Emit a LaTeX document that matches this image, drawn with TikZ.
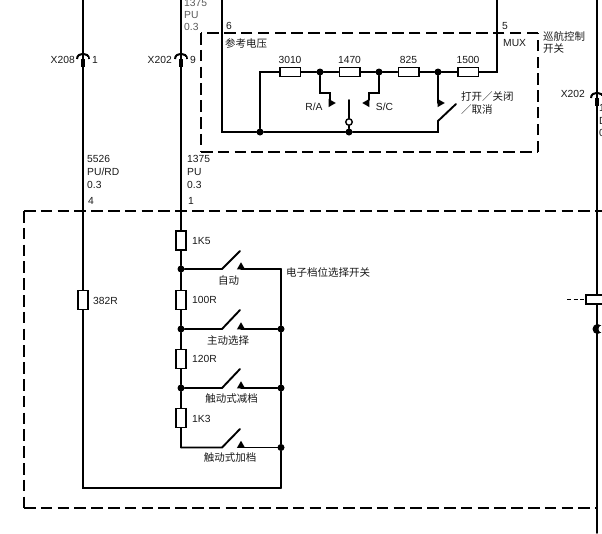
\documentclass[tikz,border=0pt]{standalone}
\usepackage{fontspec}
\setmainfont{Liberation Sans}
\newfontfamily\cjk{Noto Sans CJK SC}
\usetikzlibrary{shapes,calc,positioning}
\tikzset{
	wire/.style={line width=1.9pt, line cap=round, line join=miter},
	boxline/.style={line width=1.9pt, dash pattern=on 11.5pt off 5.3pt},
	res/.style={draw, line width=1.5pt, fill=white, rectangle, inner sep=0pt},
	resv/.style={res, minimum width=10pt, minimum height=19pt},
	resh/.style={res, minimum width=20.5pt, minimum height=9pt},
	dot/.style={circle, fill=black, inner sep=0pt, minimum size=7pt},
	tip/.style={regular polygon, regular polygon sides=3, fill=black, inner sep=0pt, minimum size=9.5pt},
	lab/.style={font=\fontsize{10.3}{12}\selectfont, text=black!90, inner sep=0pt},
	wlab/.style={lab, anchor=west},
	elab/.style={lab, anchor=east},
	zh/.style={font=\fontsize{10.5}{12}\selectfont\cjk, text=black!90, inner sep=0pt},
	zhw/.style={zh, anchor=west},
	conn/.pic={
		\draw[line width=2pt] (-6,4) .. controls (-6,-3) and (6,-3) .. (6,4);
		\draw[line width=3.8pt] (0,4) -- (0,12);
		\fill[white] (-4.5,2.2) rectangle (-1,4);
		\fill[white] (1,2.2) rectangle (4.5,4);
	}
}
\begin{document}
\begin{tikzpicture}[x=1pt, y=-1pt]
	\useasboundingbox (0,0) rectangle (602,533);
	% outer and upper dashed boxes
	\coordinate (obtl) at (24,211);
	\coordinate (obtr) at (602,211);
	\coordinate (obbl) at (24,508);
	\coordinate (obbr) at (597,508);
	\coordinate (ubtl) at (201,33);
	\coordinate (ubtr) at (538,33);
	\coordinate (ubbl) at (201,152);
	\coordinate (ubbr) at (538,152);
	\draw[boxline] (obtl) -- (obtr);
	\draw[boxline] (obtl) -- (obbl);
	\draw[boxline] (obbl) -- (obbr);
	\draw[boxline] (ubtl) -- (ubbl);
	\draw[boxline] (ubbl) -- (ubbr);
	\draw[boxline] (ubbr) -- (ubtr);
	\draw[boxline] (ubtr) -- (ubtl);

	% left wires with connectors
	\coordinate (topa) at (83,0);
	\coordinate (topb) at (181,0);
	\coordinate (topc) at (597,0);
	\coordinate (botc) at (597,533);
	\coordinate (corna) at (83,488);
	\coordinate (cornb) at (281,488);
	\node[resv] (r382) at (83,300) {};
	\node[resv] (r1k5) at (181,240.5) {};
	\node[resv] (r100) at (181,300) {};
	\node[resv] (r120) at (181,359) {};
	\node[resv] (r1k3) at (181,418) {};
	\draw[wire] (topa) -- (r382);
	\draw[wire] (r382) -- (corna) -- (cornb);
	\draw[wire] (topb) -- (r1k5);
	\draw[wire] (topc) -- (botc);
	\pic at (83,55) {conn};
	\pic at (181,55) {conn};
	\pic at (597,94) {conn};

	% gear switch ladder
	\node[dot] (ja) at (181,269) {};
	\node[dot] (jb) at (181,329) {};
	\node[dot] (jc) at (181,388) {};
	\coordinate (jd) at (181,447.5);
	\coordinate (bus) at (281,269);
	\node[dot] (ka) at (281,329) {};
	\node[dot] (kb) at (281,388) {};
	\node[dot] (kc) at (281,447.5) {};
	\draw[wire] (r1k5) -- (ja) -- (r100) -- (jb) -- (r120) -- (jc) -- (r1k3) -- (jd);
	\draw[wire] (bus) -- (ka) -- (kb) -- (kc) -- (cornb);

	\coordinate (sa1) at (222,269);
	\coordinate (sa2) at (240,251);
	\coordinate (sa3) at (241,269);
	\node[tip] (ta) at (241,267) {};
	\draw[wire] (ja) -- (sa1) -- (sa2);
	\draw[wire] (sa3) -- (bus);
	\coordinate (sb1) at (222,329);
	\coordinate (sb2) at (240,310);
	\coordinate (sb3) at (241,329);
	\node[tip] (tb) at (241,327) {};
	\draw[wire] (jb) -- (sb1) -- (sb2);
	\draw[wire] (sb3) -- (ka);
	\coordinate (sc1) at (222,388);
	\coordinate (sc2) at (240,369);
	\coordinate (sc3) at (241,388);
	\node[tip] (tc) at (241,386) {};
	\draw[wire] (jc) -- (sc1) -- (sc2);
	\draw[wire] (sc3) -- (kb);
	\coordinate (sd1) at (222,447.5);
	\coordinate (sd2) at (240,429);
	\coordinate (sd3) at (241,447.5);
	\node[tip] (td) at (241,445.5) {};
	\draw[wire] (jd) -- (sd1) -- (sd2);
	\draw[wire] (sd3) -- (kc);

	% cruise control switch
	\coordinate (cta) at (222,0);
	\coordinate (ctb) at (222,132);
	\coordinate (ctc) at (497,0);
	\coordinate (ctd) at (497,72);
	\coordinate (cte) at (260,72);
	\node[dot] (cj0) at (260,132) {};
	\node[dot] (cj1) at (349,132) {};
	\node[dot] (cj2) at (320,72) {};
	\node[dot] (cj3) at (379,72) {};
	\node[dot] (cj4) at (438,72) {};
	\node[resh] (r3010) at (290,72) {};
	\node[resh] (r1470) at (349.5,72) {};
	\node[resh] (r825) at (408.5,72) {};
	\node[resh] (r1500) at (468,72) {};
	\coordinate (csa) at (438,132);
	\coordinate (csb) at (438,121);
	\coordinate (csc) at (456,104);
	\draw[wire] (cta) -- (ctb) -- (cj0) -- (cj1) -- (csa) -- (csb) -- (csc);
	\draw[wire] (cj0) -- (cte) -- (r3010) -- (cj2) -- (r1470) -- (cj3) -- (r825) -- (cj4) -- (r1500) -- (ctd) -- (ctc);
	\coordinate (raa) at (320,93);
	\coordinate (rab) at (330,93);
	\coordinate (rac) at (330,100);
	\node[tip, shape border rotate=-90] (tra) at (331,103) {};
	\draw[wire] (cj2) -- (raa) -- (rab) -- (rac);
	\coordinate (sca) at (379,93);
	\coordinate (scb) at (369,93);
	\coordinate (scc) at (369,100);
	\node[tip, shape border rotate=90] (tsc) at (367,103) {};
	\draw[wire] (cj3) -- (sca) -- (scb) -- (scc);
	\coordinate (cool) at (438,103);
	\node[tip, shape border rotate=-90] (tcc) at (440,103) {};
	\draw[wire] (cj4) -- (cool);
	\node[circle, draw, fill=white, line width=1.4pt, inner sep=0pt, minimum size=6.5pt] (pole) at (349,122) {};
	\coordinate (polet) at (349,100);
	\draw[wire] (polet) -- (pole);
	\draw[wire] (pole) -- (cj1);

	% right edge fragment
	\node[res, minimum width=22pt, minimum height=9pt] (redge) at (597,299.5) {};
	\coordinate (rdash) at (567,299.5);
	\draw[line width=1.6pt, dash pattern=on 4pt off 2.5pt] (rdash) -- (redge.west);
	\node[circle, fill=black, inner sep=0pt, minimum size=10pt] (ejb) at (597.5,329) {};
	\node[circle, fill=white, inner sep=0pt, minimum size=7pt] (ejw) at (602,329) {};

	% labels
	\node[elab] (lxa) at (75,60) {X208};
	\node[wlab] (lpa) at (92,60) {1};
	\node[elab] (lxb) at (172,60) {X202};
	\node[wlab] (lpb) at (190,60) {9};
	\node[elab] (lxc) at (585,94) {X202};
	\node[wlab, text=black!65] (lwa) at (184,3) {1375};
	\node[wlab, text=black!65] (lwb) at (184,15) {PU};
	\node[wlab, text=black!65] (lwc) at (184,27) {0.3};
	\node[wlab] (lwd) at (87,159) {5526};
	\node[wlab] (lwe) at (87,172) {PU/RD};
	\node[wlab] (lwf) at (87,185) {0.3};
	\node[wlab] (lwg) at (187,159) {1375};
	\node[wlab] (lwh) at (187,172) {PU};
	\node[wlab] (lwi) at (187,185) {0.3};
	\node[wlab] (lwj) at (599,108) {1};
	\node[wlab] (lwk) at (599,121) {D};
	\node[wlab] (lwl) at (599,133) {0};
	\node[wlab] (lpc) at (88,201) {4};
	\node[wlab] (lpd) at (188,201) {1};
	\node[lab] (lpe) at (229,26) {6};
	\node[lab] (lpf) at (505,26) {5};
	\node[wlab] (lmux) at (503,43) {MUX};
	\node[zhw] (lref) at (225,43) {参考电压};
	\node[zhw] (lcca) at (543,36) {巡航控制};
	\node[zhw] (lccb) at (543,49) {开关};
	\node[lab] (l3010) at (290,60) {3010};
	\node[lab] (l1470) at (349.5,60) {1470};
	\node[lab] (l825) at (408.5,60) {825};
	\node[lab] (l1500) at (468,60) {1500};
	\node[lab] (lra) at (314,107) {R/A};
	\node[lab] (lsc) at (384.5,107) {S/C};
	\node[zhw] (lona) at (461,97) {打开／关闭};
	\node[zhw] (lonb) at (461,110) {／取消};
	\node[wlab] (l1k5) at (192,241) {1K5};
	\node[wlab] (l100) at (192,300) {100R};
	\node[wlab] (l120) at (192,359) {120R};
	\node[wlab] (l1k3) at (192,419) {1K3};
	\node[wlab] (l382) at (93,301) {382R};
	\node[zhw] (lsel) at (286,272) {电子档位选择开关};
	\node[zh] (lsa) at (228.5,280.5) {自动};
	\node[zh] (lsb) at (228,341) {主动选择};
	\node[zh] (lsc2) at (231.5,398.5) {触动式减档};
	\node[zh] (lsd) at (230,457.5) {触动式加档};
\end{tikzpicture}
\end{document}
